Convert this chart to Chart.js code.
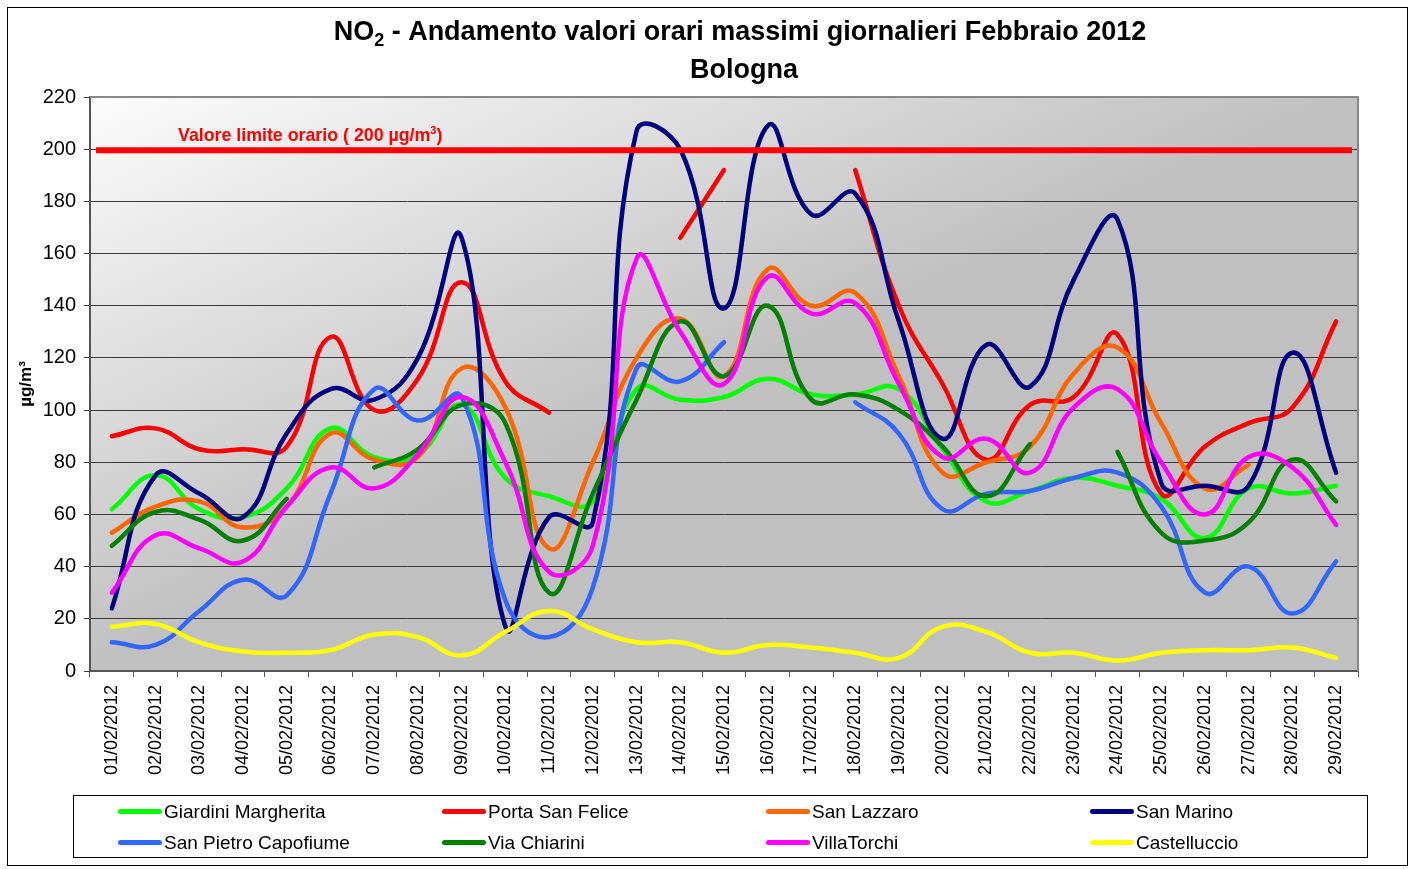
<!DOCTYPE html>
<html>
<head>
<meta charset="utf-8">
<script src="https://cdn.jsdelivr.net/npm/chart.js@4.4.0/dist/chart.umd.min.js"></script>
<style>
  body { margin: 0; background: #fff; }
  #wrap { position: relative; width: 1415px; height: 869px; }
  #legend {
    position: absolute; left: 73px; top: 795px; width: 1295px; height: 63px;
    box-sizing: border-box; border: 1px solid #000;
    display: grid; grid-template-columns: repeat(4, 324px); grid-auto-rows: 31px;
    padding-left: 44px; font: 19px 'Liberation Sans', Arial, sans-serif; color: #000;
  }
  .item { display: flex; align-items: center; white-space: nowrap; }
  .swatch { width: 44px; height: 5px; border-radius: 3px; margin-right: 2px; }
</style>
</head>
<body>
<div id="wrap">
  <canvas id="no2Chart" width="1415" height="869"></canvas>
  <div id="legend"></div>
</div>
<script>
const days = ['01/02/2012', '02/02/2012', '03/02/2012', '04/02/2012', '05/02/2012', '06/02/2012', '07/02/2012',
  '08/02/2012', '09/02/2012', '10/02/2012', '11/02/2012', '12/02/2012', '13/02/2012', '14/02/2012',
  '15/02/2012', '16/02/2012', '17/02/2012', '18/02/2012', '19/02/2012', '20/02/2012', '21/02/2012',
  '22/02/2012', '23/02/2012', '24/02/2012', '25/02/2012', '26/02/2012', '27/02/2012', '28/02/2012', '29/02/2012'];

// µg/m3, max hourly value per day (null = no data)
const giardiniMargherita = [62, 75, 62, 59, 70, 93, 82, 83, 102, 74, 67, 65, 108, 104, 105, 112, 106, 106, 108, 85, 65, 69, 74, 71, 66, 51, 70, 68, 71];
const portaSanFelice = [90, 93, 85, 85, 86, 128, 100, 112, 149, 111, 99, null, null, 166, 192, null, null, 192, 140, 110, 81, 102, 105, 129, 68, 86, 95, 101, 134];
const sanLazzaro = [53, 63, 65, 55, 63, 91, 81, 82, 116, 101, 47, 80, 120, 135, 113, 154, 140, 145, 113, 76, 80, 86, 114, 124, 95, 70, 79, null, null];
const sanMarino = [24, 75, 68, 59, 91, 108, 104, 120, 166, 17, 59, 57, 207, 200, 139, 209, 175, 183, 134, 89, 125, 109, 150, 173, 72, 71, 71, 122, 76];
const sanPietroCapofiume = [11, 10, 23, 35, 29, 68, 108, 96, 105, 27, 13, 32, 116, 111, 126, null, null, 103, 91, 62, 68, 69, 74, 76, 63, 30, 40, 22, 42];
const viaChiarini = [48, 61, 58, 50, 66, null, 78, 85, 102, 95, 30, 68, 104, 134, 113, 140, 104, 106, 100, 86, 67, 87, null, 84, 53, 50, 57, 81, 65];
const villaTorchi = [30, 52, 47, 42, 63, 78, 70, 83, 105, 80, 38, 48, 158, 130, 110, 151, 137, 141, 110, 82, 89, 76, 101, 108, 80, 60, 82, 78, 56];
const castelluccio = [17, 18, 11, 7.5, 7, 8, 14, 13, 6, 15, 23, 16, 11, 11, 7, 10, 9, 7, 5, 17, 15, 7, 7, 4, 7, 8, 8, 9, 5];

const stationNames = ['Giardini Margherita', 'Porta San Felice', 'San Lazzaro', 'San Marino',
  'San Pietro Capofiume', 'Via Chiarini', 'VillaTorchi', 'Castelluccio'];
const stationValues = [giardiniMargherita, portaSanFelice, sanLazzaro, sanMarino,
  sanPietroCapofiume, viaChiarini, villaTorchi, castelluccio];
const stationColors = ['#00ff00', '#ff0000', '#ff6600', '#000080', '#3366ff', '#008000', '#ff00ff', '#ffff00'];

const limitValue = 200;
const yTicks = [0, 20, 40, 60, 80, 100, 120, 140, 160, 180, 200, 220];

const FONT = "'Liberation Sans', Arial, sans-serif";

// text with a sub/superscript piece, drawn left to right
function drawPieces(ctx, pieces, x, y) {
  pieces.forEach(p => {
    ctx.font = p.font;
    ctx.fillText(p.text, x, y + (p.dy || 0));
    x += ctx.measureText(p.text).width;
  });
}
function piecesWidth(ctx, pieces) {
  return pieces.reduce((w, p) => { ctx.font = p.font; return w + ctx.measureText(p.text).width; }, 0);
}

const decorations = {
  id: 'decorations',
  beforeDraw(chart) {
    const { ctx, chartArea: a } = chart;
    ctx.save();
    // outer frame
    ctx.strokeStyle = '#000';
    ctx.lineWidth = 1;
    ctx.strokeRect(7.5, 7.5, 1400, 858);
    // plot area gradient, light in the top-left corner
    const w = a.right - a.left, h = a.bottom - a.top;
    const k = 1 / (1 / (w * w) + 1 / (h * h));
    const g = ctx.createLinearGradient(a.left, a.top, a.left + k / w, a.top + k / h);
    g.addColorStop(0, '#fcfcfc');
    g.addColorStop(1, '#c0c0c0');
    ctx.fillStyle = g;
    ctx.fillRect(a.left, a.top, w, h);
    ctx.restore();
  },
  beforeDatasetsDraw(chart) {
    const { ctx, chartArea: a } = chart;
    ctx.save();
    ctx.strokeStyle = '#888';
    ctx.lineWidth = 2;
    ctx.beginPath();
    ctx.moveTo(a.left, a.top);
    ctx.lineTo(a.right, a.top);
    ctx.lineTo(a.right, a.bottom);
    ctx.stroke();
    ctx.restore();
  },
  afterDatasetsDraw(chart) {
    const { ctx, chartArea: a, scales } = chart;
    const y = scales.y.getPixelForValue(limitValue) + 1;
    ctx.save();
    ctx.strokeStyle = '#ff0000';
    ctx.lineWidth = 6;
    ctx.beginPath();
    ctx.moveTo(a.left + 6, y);
    ctx.lineTo(a.right - 6, y);
    ctx.stroke();
    ctx.fillStyle = '#ff0000';
    ctx.textBaseline = 'alphabetic';
    drawPieces(ctx, [
      { text: 'Valore limite orario ( ' + limitValue + ' µg/m', font: 'bold 17.8px ' + FONT },
      { text: '3', font: 'bold 11px ' + FONT, dy: -7 },
      { text: ')', font: 'bold 17.8px ' + FONT }
    ], a.left + 88, y - 9);
    ctx.restore();
  },
  afterDraw(chart) {
    const { ctx } = chart;
    ctx.save();
    ctx.fillStyle = '#000';
    ctx.textBaseline = 'alphabetic';
    const line1 = [
      { text: 'NO', font: 'bold 27px ' + FONT },
      { text: '2', font: 'bold 18px ' + FONT, dy: 6 },
      { text: ' - Andamento valori orari massimi giornalieri Febbraio 2012', font: 'bold 27px ' + FONT }
    ];
    drawPieces(ctx, line1, 740 - piecesWidth(ctx, line1) / 2, 40);
    ctx.font = 'bold 27px ' + FONT;
    ctx.textAlign = 'center';
    ctx.fillText('Bologna', 744, 78);
    ctx.restore();
  }
};

const datasets = stationNames.map((name, i) => ({
  label: name,
  data: stationValues[i],
  borderColor: stationColors[i],
  backgroundColor: stationColors[i],
  borderWidth: 4.5,
  borderCapStyle: 'round',
  borderJoinStyle: 'round',
  pointRadius: 0,
  tension: 0.45,
  spanGaps: false,
  fill: false,
  order: stationNames.length - i
}));

new Chart(document.getElementById('no2Chart'), {
  type: 'line',
  data: { labels: days, datasets },
  options: {
    responsive: false,
    animation: false,
    devicePixelRatio: 1,
    layout: { padding: { left: 10, right: 57, top: 97, bottom: 78 } },
    plugins: {
      legend: { display: false },
      tooltip: { enabled: false },
      title: { display: false }
    },
    scales: {
      x: {
        offset: true,
        afterFit: s => { s.height = 120; },
        grid: { offset: true, drawOnChartArea: false, drawTicks: true, tickLength: 6, color: '#555' },
        border: { color: '#555', width: 2 },
        ticks: {
          autoSkip: false, minRotation: 90, maxRotation: 90, padding: 8,
          color: '#000', font: { family: FONT, size: 18 }
        }
      },
      y: {
        min: 0, max: 220,
        afterFit: s => { s.width = 80; },
        afterBuildTicks: s => { s.ticks = yTicks.map(v => ({ value: v })); },
        grid: { color: '#3a3a3a', lineWidth: 1, tickLength: 6 },
        border: { color: '#555', width: 2 },
        ticks: { padding: 8, color: '#000', font: { family: FONT, size: 20 } },
        title: {
          display: true, text: 'µg/m³', color: '#000',
          font: { family: FONT, size: 17, weight: 'bold' }, padding: { top: 6, bottom: 0 }
        }
      }
    }
  },
  plugins: [decorations]
});

// legend box under the plot, 4 columns
const legend = document.getElementById('legend');
stationNames.forEach((name, i) => {
  const item = document.createElement('div');
  item.className = 'item';
  item.innerHTML = '<span class="swatch" style="background:' + stationColors[i] + '"></span>' + name;
  legend.appendChild(item);
});
</script>
</body>
</html>
